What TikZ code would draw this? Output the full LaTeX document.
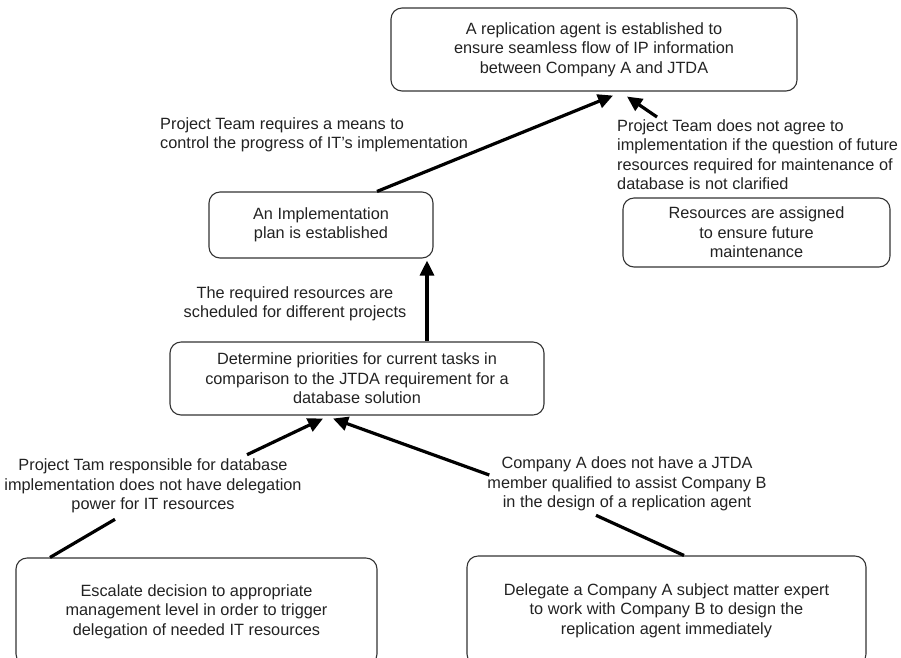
\documentclass[tikz,border=0pt]{standalone}
\usepackage{fontspec}
\setmainfont{Liberation Sans}
\usetikzlibrary{arrows.meta,calc}
\definecolor{txt}{HTML}{222222}
\definecolor{edge}{HTML}{333333}
\begin{document}
\begin{tikzpicture}[x=1pt,y=-1pt,
  font=\fontsize{16.3}{19.5}\selectfont, text=txt,
  box/.style={draw=edge, line width=1.1pt, rounded corners=11pt, inner sep=0pt, align=center},
  lbl/.style={inner sep=0pt},
  conn/.style={line width=3.2pt, black},
  arr/.style={conn, -{Triangle[length=15pt,width=14pt]}}]
\useasboundingbox (0,0) rectangle (901,657);
% boxes
\node[box, minimum width=406pt, minimum height=83pt] (top) at (594,49.5)
  {A replication agent is established to\\ensure seamless flow of IP information\\between Company A and JTDA};
\node[box, minimum width=267pt, minimum height=69pt] (res) at (756.5,232.5)
  {Resources are assigned\\to ensure future\\maintenance};
\node[box, minimum width=224pt, minimum height=66pt] (impl) at (321,225)
  {An Implementation\\plan is established};
\node[box, minimum width=374pt, minimum height=73pt] (det) at (357,378.5)
  {Determine priorities for current tasks in\\comparison to the JTDA requirement for a\\database solution};
\node[box, minimum width=361pt, minimum height=107pt] (esc) at (196.5,611.5)
  {Escalate decision to appropriate\\management level in order to trigger\\delegation of needed IT resources};
\node[box, minimum width=399pt, minimum height=109pt] (del) at (666.5,610.5)
  {Delegate a Company A subject matter expert\\to work with Company B to design the\\replication agent immediately};
% labels
\node[lbl, align=left, anchor=north west] (l1) at (160,117)
  {Project Team requires a means to\\control the progress of IT's implementation};
\node[lbl, align=left, anchor=north west] (l2) at (617,119)
  {Project Team does not agree to\\implementation if the question of future\\resources required for maintenance of\\database is not clarified};
\node[lbl, align=center] (l3) at (295,304)
  {The required resources are\\scheduled for different projects};
\node[lbl, align=center] (l4) at (153,486)
  {Project Tam responsible for database\\implementation does not have delegation\\power for IT resources};
\node[lbl, align=center] (l5) at (627,484)
  {Company A does not have a JTDA\\member qualified to assist Company B\\in the design of a replication agent};
% connector end points
\coordinate (a1s) at ($(impl.north)+(56,0)$);
\coordinate (a1e) at ($(top.south)+(19,4)$);
\coordinate (a2s) at ($(l2.north west)+(40,-2)$);
\coordinate (a2e) at ($(top.south)+(33,5)$);
\coordinate (a3s) at ($(det.north)+(70,0)$);
\coordinate (a3e) at ($(impl.south)+(106,2)$);
\coordinate (a4s) at ($(l4.north)+(94,-4)$);
\coordinate (a4e) at ($(det.south)+(-34,3)$);
\coordinate (a5s) at ($(l5.west)+(2,-9)$);
\coordinate (a5e) at ($(det.south)+(-24,3)$);
\coordinate (b1s) at ($(esc.north)+(-146.5,0)$);
\coordinate (b1e) at ($(l4.south)+(-38,6)$);
\coordinate (b2s) at ($(del.north)+(17.5,0)$);
\coordinate (b2e) at ($(l5.south)+(-31,4)$);
% connectors
\draw[arr] (a1s) -- (a1e);
\draw[arr] (a2s) -- (a2e);
\draw[arr] (a3s) -- (a3e);
\draw[arr] (a4s) -- (a4e);
\draw[arr] (a5s) -- (a5e);
\draw[conn] (b1s) -- (b1e);
\draw[conn] (b2s) -- (b2e);
\end{tikzpicture}
\end{document}
